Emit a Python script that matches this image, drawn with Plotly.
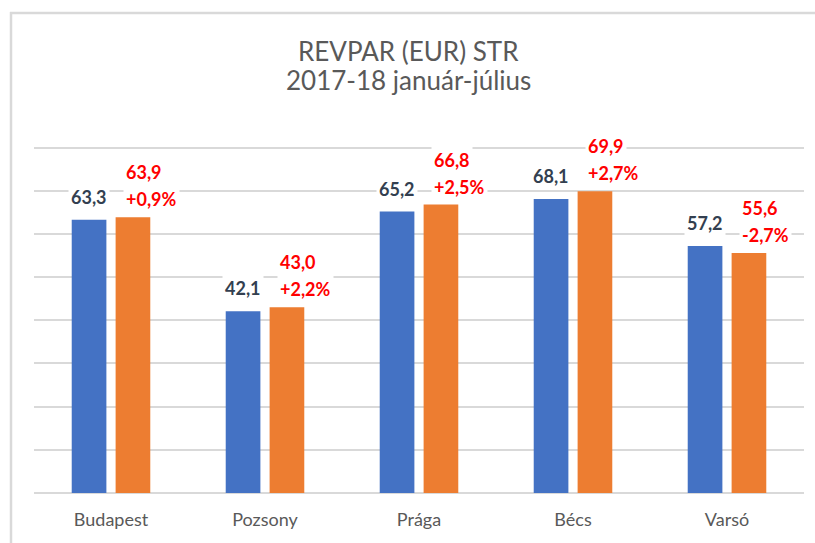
import plotly.graph_objects as go

# ---- data ----
cities = ["Budapest", "Pozsony", "Prága", "Bécs", "Varsó"]
revpar_2017 = [63.3, 42.1, 65.2, 68.1, 57.2]
revpar_2018 = [63.9, 43.0, 66.8, 69.9, 55.6]
change_pct = [0.9, 2.2, 2.5, 2.7, -2.7]
title_line1 = "REVPAR (EUR) STR"
title_line2 = "2017-18 január-július"

BLUE = "#4472C4"
ORANGE = "#ED7D31"
GRID = "#D9D9D9"
FONT = "Lato"

W, H = 815, 543
Y_MAX = 82
PX_PER_UNIT = 4.3175
ML, MR, MB = 34, 11, 50
plot_w = W - ML - MR
plot_h = Y_MAX * PX_PER_UNIT
MT = H - MB - plot_h


def px_to_paper_x(px):
    return (px - ML) / plot_w


def px_to_paper_y(py):
    return (H - MB - py) / plot_h


def fmt(v):
    return f"{v:.1f}".replace(".", ",")


def fmt_pct(v):
    s = f"{v:+.1f}".replace(".", ",")
    return s + "%"


fig = go.Figure()
fig.add_trace(go.Bar(x=cities, y=revpar_2017, name="2017", marker_color=BLUE,
                     marker_line_width=0, hoverinfo="skip"))
fig.add_trace(go.Bar(x=cities, y=revpar_2018, name="2018", marker_color=ORANGE,
                     marker_line_width=0, hoverinfo="skip"))

annotations = []
slot_px = plot_w / len(cities) * (1 - 0.43) / 2
for c, v17, v18, p in zip(cities, revpar_2017, revpar_2018, change_pct):
    annotations.append(dict(
        x=c, y=v17, xref="x", yref="y", text=fmt(v17), showarrow=False,
        xshift=-slot_px / 2, yshift=23, yanchor="middle", xanchor="center",
        font=dict(family=FONT, size=18, color="#333F50", weight="bold"),
        bgcolor="white", borderpad=2,
    ))
    annotations.append(dict(
        x=c, y=v18, xref="x", yref="y", text=fmt_pct(p), showarrow=False,
        xshift=slot_px / 2 - 10, yshift=18, yanchor="middle", xanchor="left",
        font=dict(family=FONT, size=18, color="#FF0000", weight="bold"),
        bgcolor="white", borderpad=2,
    ))
    annotations.append(dict(
        x=c, y=v18, xref="x", yref="y", text=fmt(v18), showarrow=False,
        xshift=slot_px / 2 - 10, yshift=45, yanchor="middle", xanchor="left",
        font=dict(family=FONT, size=18, color="#FF0000", weight="bold"),
        bgcolor="white", borderpad=2,
    ))

annotations.append(dict(
    x=px_to_paper_x(408), y=px_to_paper_y(51), xref="paper", yref="paper",
    text=title_line1, showarrow=False, xanchor="center", yanchor="middle",
    font=dict(family=FONT, size=26, color="#595959"),
))
annotations.append(dict(
    x=px_to_paper_x(408), y=px_to_paper_y(80), xref="paper", yref="paper",
    text=title_line2, showarrow=False, xanchor="center", yanchor="middle",
    font=dict(family=FONT, size=26, color="#595959"),
))

shapes = [
    dict(type="line", xref="paper", yref="paper",
         x0=px_to_paper_x(10), x1=px_to_paper_x(W + 5),
         y0=px_to_paper_y(13), y1=px_to_paper_y(13),
         line=dict(color=GRID, width=2.5)),
    dict(type="line", xref="paper", yref="paper",
         x0=px_to_paper_x(11), x1=px_to_paper_x(11),
         y0=px_to_paper_y(12), y1=px_to_paper_y(H + 5),
         line=dict(color=GRID, width=2.5)),
]

fig.update_layout(
    width=W, height=H,
    margin=dict(l=ML, r=MR, t=MT, b=MB),
    paper_bgcolor="white", plot_bgcolor="white",
    barmode="group", bargap=0.43, bargroupgap=0.21,
    showlegend=False,
    annotations=annotations,
    shapes=shapes,
    font=dict(family=FONT),
)
fig.update_xaxes(
    type="category", showgrid=False, showline=False, ticks="",
    tickfont=dict(family=FONT, size=18, color="#595959"),
    ticklabelstandoff=14,
)
fig.update_yaxes(
    range=[0, Y_MAX], tickvals=[0, 10, 20, 30, 40, 50, 60, 70, 80],
    showticklabels=False, showgrid=True,
    gridcolor=GRID, gridwidth=2, zeroline=True, zerolinecolor=GRID,
    zerolinewidth=2, showline=False,
)

fig.write_html("out.html", config={"displayModeBar": False},
               post_script="document.body.style.margin='0';")
